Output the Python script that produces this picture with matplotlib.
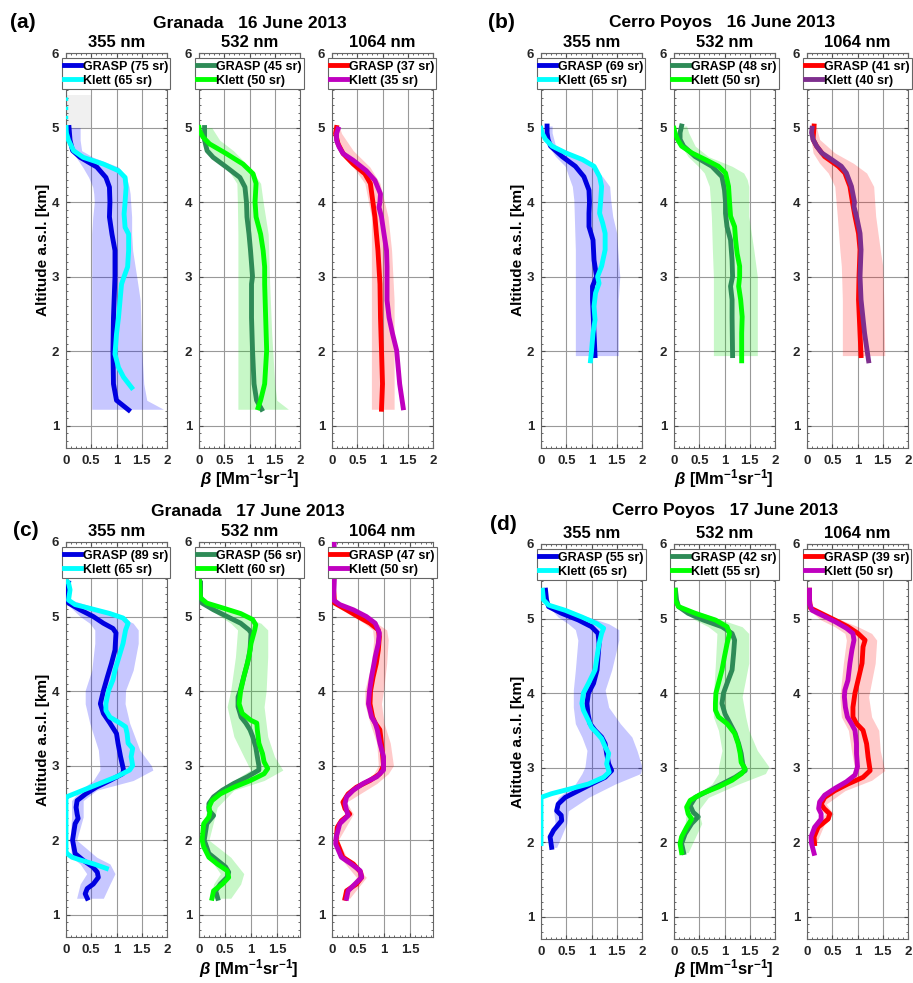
import numpy as np
import matplotlib.pyplot as plt
from matplotlib.ticker import MultipleLocator, FuncFormatter

plt.rcParams['font.family'] = 'Liberation Sans'
plt.rcParams['font.weight'] = 'bold'
plt.rcParams['mathtext.fontset'] = 'custom'
plt.rcParams['mathtext.rm'] = 'Liberation Sans:bold'
plt.rcParams['mathtext.it'] = 'Liberation Sans:italic:bold'
plt.rcParams['mathtext.bf'] = 'Liberation Sans:bold'

## Data: altitude [km] and backscatter [Mm-1 sr-1]

# (a) Granada 16 June 2013
a355_g_alt = [1.21, 1.34, 1.56, 2.01, 2.45, 3.0, 3.35, 3.57, 3.80, 4.0, 4.20, 4.33, 4.47, 4.60, 4.69, 4.83, 5.0]
a355_g_val = [1.24, 1.0, 0.94, 0.93, 0.94, 0.97, 0.97, 0.91, 0.86, 0.87, 0.86, 0.79, 0.61, 0.28, 0.13, 0.08, 0.06]
a355_k_alt = [1.51, 1.65, 1.78, 1.96, 2.23, 2.45, 2.68, 2.90, 3.0, 3.13, 3.35, 3.57, 3.66, 3.84, 4.0, 4.2, 4.33, 4.42, 4.51, 4.60, 4.69, 4.83, 4.92, 5.0]
a355_k_val = [1.30, 1.14, 1.04, 0.97, 1.0, 1.04, 1.07, 1.10, 1.15, 1.22, 1.24, 1.24, 1.17, 1.15, 1.17, 1.19, 1.17, 1.04, 0.74, 0.34, 0.15, 0.05, 0.01, 0.0]
a355_kd_alt = [5.0, 5.43]
a355_kd_val = [0.0, 0.0]
a355_box_alt = [5.0, 5.43]
a355_box_lo = [0.0, 0.0]
a355_box_hi = [0.5, 0.5]
a355_b_alt = [1.22, 1.34, 1.56, 2.01, 2.68, 3.0, 3.35, 3.57, 3.80, 4.0, 4.11, 4.20, 4.33, 4.47, 4.60, 4.69, 4.83, 5.0]
a355_b_lo = [0.51, 0.51, 0.51, 0.51, 0.51, 0.51, 0.51, 0.51, 0.53, 0.56, 0.55, 0.53, 0.45, 0.33, 0.20, 0.12, 0.05, 0.03]
a355_b_hi = [1.93, 1.60, 1.54, 1.50, 1.47, 1.40, 1.32, 1.30, 1.30, 1.28, 1.27, 1.25, 1.20, 1.04, 0.54, 0.31, 0.28, 0.28]

a532_g_alt = [1.22, 1.34, 1.56, 2.01, 2.45, 2.90, 3.0, 3.35, 3.57, 3.80, 4.0, 4.20, 4.33, 4.47, 4.60, 4.69, 4.83, 5.0]
a532_g_val = [1.24, 1.14, 1.09, 1.06, 1.04, 1.04, 1.06, 1.02, 0.99, 0.95, 0.94, 0.91, 0.81, 0.54, 0.28, 0.16, 0.11, 0.11]
a532_k_alt = [1.24, 1.34, 1.56, 2.01, 2.45, 2.90, 3.13, 3.35, 3.57, 3.80, 4.0, 4.25, 4.38, 4.51, 4.65, 4.78, 4.87, 4.96, 5.0]
a532_k_val = [1.17, 1.22, 1.30, 1.34, 1.32, 1.30, 1.30, 1.27, 1.22, 1.13, 1.11, 1.13, 1.07, 0.87, 0.54, 0.21, 0.08, 0.01, 0.0]
a532_b_alt = [1.22, 1.34, 1.56, 2.23, 2.90, 3.57, 4.0, 4.25, 4.47, 4.69, 4.83, 5.0]
a532_b_lo = [0.77, 0.77, 0.77, 0.77, 0.77, 0.77, 0.76, 0.75, 0.54, 0.21, 0.08, 0.05]
a532_b_hi = [1.77, 1.54, 1.50, 1.44, 1.40, 1.37, 1.27, 1.22, 1.0, 0.68, 0.41, 0.25]

a1064_g_alt = [1.22, 1.56, 2.01, 2.45, 2.90, 3.35, 3.57, 3.80, 4.0, 4.25, 4.38, 4.51, 4.65, 4.78, 4.92, 5.0]
a1064_g_val = [0.98, 1.0, 0.98, 0.96, 0.95, 0.91, 0.88, 0.85, 0.81, 0.76, 0.65, 0.42, 0.22, 0.12, 0.07, 0.09]
a1064_k_alt = [1.24, 1.56, 2.01, 2.23, 2.45, 2.68, 2.90, 3.13, 3.35, 3.57, 3.80, 3.93, 4.0, 4.11, 4.29, 4.42, 4.56, 4.65, 4.74, 4.83, 4.92, 4.98]
a1064_k_val = [1.41, 1.34, 1.28, 1.20, 1.13, 1.09, 1.09, 1.09, 1.08, 1.03, 0.98, 0.93, 0.95, 0.96, 0.85, 0.68, 0.42, 0.22, 0.14, 0.09, 0.09, 0.12]
a1064_b_alt = [1.22, 2.68, 3.35, 3.80, 4.25, 4.47, 4.69, 4.92, 5.0]
a1064_b_lo = [0.78, 0.78, 0.78, 0.78, 0.65, 0.42, 0.15, 0.05, 0.05]
a1064_b_hi = [1.23, 1.23, 1.18, 1.11, 0.95, 0.75, 0.42, 0.19, 0.15]

# (b) Cerro Poyos 16 June 2013
b355_g_alt = [1.94, 2.24, 2.69, 2.87, 3.0, 3.22, 3.49, 3.67, 3.85, 4.0, 4.16, 4.34, 4.48, 4.61, 4.75, 4.84, 4.93, 5.02]
b355_g_val = [1.07, 1.05, 1.02, 1.02, 1.10, 1.05, 1.03, 0.95, 0.95, 0.96, 0.95, 0.85, 0.68, 0.42, 0.19, 0.14, 0.12, 0.12]
b355_k_alt = [1.87, 2.0, 2.24, 2.42, 2.60, 2.78, 2.91, 3.0, 3.14, 3.36, 3.58, 3.72, 3.85, 4.0, 4.21, 4.34, 4.48, 4.57, 4.66, 4.75, 4.84, 4.93, 4.99]
b355_k_val = [0.98, 1.0, 1.03, 1.07, 1.05, 1.08, 1.15, 1.12, 1.20, 1.27, 1.27, 1.22, 1.16, 1.18, 1.20, 1.16, 1.05, 0.82, 0.49, 0.22, 0.09, 0.02, 0.0]
b355_b_alt = [1.94, 2.69, 3.0, 3.36, 3.58, 3.81, 4.03, 4.21, 4.34, 4.48, 4.61, 4.75, 4.93, 5.02]
b355_b_lo = [0.68, 0.68, 0.68, 0.68, 0.67, 0.66, 0.65, 0.62, 0.55, 0.48, 0.29, 0.15, 0.09, 0.09]
b355_b_hi = [1.53, 1.53, 1.56, 1.52, 1.50, 1.42, 1.38, 1.36, 1.22, 1.02, 0.62, 0.29, 0.22, 0.22]

b532_g_alt = [1.94, 2.46, 2.69, 2.87, 3.0, 3.22, 3.49, 3.67, 3.85, 4.0, 4.16, 4.34, 4.48, 4.61, 4.75, 4.84, 4.93, 5.02]
b532_g_val = [1.16, 1.15, 1.15, 1.12, 1.16, 1.15, 1.12, 1.05, 1.02, 1.02, 1.0, 0.95, 0.75, 0.42, 0.19, 0.12, 0.12, 0.15]
b532_k_alt = [1.87, 2.24, 2.46, 2.69, 2.87, 3.0, 3.14, 3.31, 3.49, 3.67, 3.81, 4.0, 4.21, 4.39, 4.48, 4.57, 4.66, 4.75, 4.84, 4.93, 4.99]
b532_k_val = [1.34, 1.34, 1.35, 1.32, 1.28, 1.30, 1.30, 1.25, 1.22, 1.20, 1.12, 1.10, 1.08, 1.02, 0.88, 0.62, 0.35, 0.15, 0.07, 0.02, 0.0]
b532_b_alt = [1.94, 3.0, 3.36, 3.81, 4.03, 4.21, 4.30, 4.39, 4.48, 4.61, 4.75, 4.93, 5.02]
b532_b_lo = [0.78, 0.78, 0.76, 0.74, 0.72, 0.70, 0.65, 0.60, 0.48, 0.28, 0.15, 0.10, 0.10]
b532_b_hi = [1.65, 1.65, 1.58, 1.48, 1.48, 1.48, 1.45, 1.38, 1.15, 0.68, 0.42, 0.29, 0.25]

b1064_g_alt = [1.94, 2.24, 2.69, 3.0, 3.36, 3.58, 3.81, 4.0, 4.21, 4.39, 4.48, 4.61, 4.75, 4.84, 5.02]
b1064_g_val = [1.07, 1.05, 1.02, 1.03, 1.05, 1.02, 0.95, 0.90, 0.85, 0.75, 0.62, 0.35, 0.19, 0.12, 0.14]
b1064_k_alt = [1.87, 2.24, 2.69, 3.0, 3.36, 3.58, 3.81, 3.94, 4.0, 4.21, 4.39, 4.48, 4.57, 4.66, 4.75, 4.84, 4.93, 4.99]
b1064_k_val = [1.22, 1.14, 1.07, 1.05, 1.07, 1.05, 0.98, 0.93, 0.94, 0.88, 0.78, 0.68, 0.49, 0.29, 0.19, 0.12, 0.09, 0.10]
b1064_b_alt = [1.94, 2.69, 3.14, 3.36, 3.81, 4.21, 4.39, 4.52, 4.66, 4.84, 5.02]
b1064_b_lo = [0.70, 0.70, 0.68, 0.65, 0.60, 0.55, 0.42, 0.25, 0.12, 0.08, 0.05]
b1064_b_hi = [1.54, 1.52, 1.50, 1.45, 1.36, 1.32, 1.18, 0.92, 0.55, 0.25, 0.18]

# (c) Granada 17 June 2013
c355_g_alt = [1.22, 1.28, 1.35, 1.41, 1.50, 1.57, 1.64, 1.73, 1.82, 2.0, 2.22, 2.29, 2.35, 2.44, 2.53, 2.62, 2.71, 2.80, 2.89, 2.94, 3.12, 3.30, 3.43, 3.57, 3.70, 3.83, 4.0, 4.19, 4.37, 4.55, 4.78, 4.84, 4.91, 5.0, 5.09, 5.18, 5.27, 5.45]
c355_g_val = [0.42, 0.38, 0.42, 0.54, 0.64, 0.62, 0.53, 0.34, 0.18, 0.13, 0.18, 0.24, 0.22, 0.20, 0.22, 0.39, 0.60, 0.87, 1.12, 1.14, 1.08, 1.03, 1.0, 0.87, 0.74, 0.68, 0.74, 0.82, 0.90, 0.97, 0.99, 0.93, 0.74, 0.54, 0.28, 0.05, 0.01, 0.05]
c355_k_alt = [1.62, 1.68, 1.73, 1.77, 1.82, 1.84, 2.56, 2.58, 2.67, 2.76, 2.85, 2.94, 3.0, 3.12, 3.23, 3.30, 3.43, 3.52, 3.57, 3.65, 3.74, 3.83, 4.0, 4.15, 4.28, 4.46, 4.64, 4.82, 4.91, 4.98, 5.04, 5.11, 5.16, 5.22, 5.36, 5.45, 5.49]
c355_k_val = [0.80, 0.55, 0.30, 0.12, 0.02, 0.0, 0.0, 0.01, 0.34, 0.67, 1.0, 1.26, 1.32, 1.29, 1.32, 1.23, 1.21, 1.18, 1.07, 0.87, 0.79, 0.79, 0.84, 0.93, 0.97, 1.05, 1.13, 1.18, 1.23, 1.13, 0.87, 0.47, 0.18, 0.05, 0.08, 0.05, 0.0]
c355_b_alt = [1.22, 1.41, 1.55, 1.68, 1.77, 2.0, 2.31, 2.53, 2.67, 2.80, 2.94, 3.0, 3.21, 3.57, 3.83, 4.01, 4.28, 4.64, 4.82, 4.91, 5.0, 5.13, 5.22]
c355_b_lo = [0.21, 0.28, 0.41, 0.28, 0.11, 0.08, 0.11, 0.11, 0.28, 0.54, 0.67, 0.67, 0.64, 0.47, 0.38, 0.38, 0.51, 0.57, 0.57, 0.47, 0.28, 0.08, 0.01]
c355_b_hi = [0.74, 0.87, 0.97, 0.87, 0.61, 0.21, 0.34, 0.34, 0.61, 1.33, 1.72, 1.69, 1.46, 1.26, 1.17, 1.18, 1.33, 1.43, 1.43, 1.33, 1.07, 0.54, 0.11]

c532_g_alt = [1.22, 1.32, 1.41, 1.50, 1.57, 1.64, 1.73, 1.82, 2.0, 2.22, 2.33, 2.40, 2.49, 2.58, 2.67, 2.76, 2.85, 2.94, 3.0, 3.12, 3.25, 3.39, 3.48, 3.57, 3.65, 3.79, 3.92, 4.0, 4.19, 4.37, 4.55, 4.78, 4.82, 4.91, 5.0, 5.09, 5.18, 5.27, 5.45]
c532_g_val = [0.36, 0.32, 0.41, 0.54, 0.57, 0.51, 0.35, 0.19, 0.10, 0.15, 0.28, 0.19, 0.19, 0.28, 0.45, 0.67, 0.93, 1.15, 1.15, 1.12, 1.09, 1.03, 0.98, 0.90, 0.81, 0.75, 0.75, 0.79, 0.86, 0.93, 0.98, 1.0, 0.96, 0.80, 0.54, 0.28, 0.06, 0.03, 0.03]
c532_k_alt = [1.22, 1.32, 1.41, 1.50, 1.59, 1.68, 1.77, 1.91, 2.0, 2.22, 2.31, 2.38, 2.44, 2.53, 2.62, 2.71, 2.80, 2.89, 2.96, 3.05, 3.16, 3.30, 3.48, 3.57, 3.61, 3.70, 3.83, 4.0, 4.19, 4.46, 4.64, 4.82, 4.89, 4.96, 5.04, 5.11, 5.18, 5.25, 5.45, 5.6]
c532_k_val = [0.25, 0.28, 0.45, 0.57, 0.54, 0.35, 0.19, 0.09, 0.06, 0.09, 0.19, 0.21, 0.19, 0.25, 0.41, 0.67, 0.99, 1.25, 1.32, 1.25, 1.22, 1.15, 1.12, 1.11, 0.99, 0.83, 0.77, 0.80, 0.86, 0.96, 1.0, 1.07, 1.09, 1.03, 0.80, 0.48, 0.15, 0.03, 0.01, 0.01]
c532_b_alt = [1.22, 1.41, 1.55, 1.77, 2.0, 2.44, 2.67, 2.80, 2.94, 3.12, 3.39, 3.79, 4.01, 4.46, 4.82, 4.91, 5.0, 5.13]
c532_b_lo = [0.22, 0.28, 0.41, 0.19, 0.09, 0.15, 0.35, 0.67, 0.99, 0.86, 0.67, 0.54, 0.61, 0.70, 0.74, 0.61, 0.41, 0.15]
c532_b_hi = [0.61, 0.80, 0.86, 0.61, 0.19, 0.35, 0.67, 1.25, 1.61, 1.45, 1.32, 1.25, 1.29, 1.32, 1.32, 1.19, 0.86, 0.41]

c1064_g_alt = [1.22, 1.32, 1.41, 1.50, 1.57, 1.68, 1.77, 2.0, 2.17, 2.26, 2.35, 2.42, 2.51, 2.62, 2.71, 2.80, 2.89, 3.0, 3.16, 3.30, 3.48, 3.57, 3.65, 3.83, 4.0, 4.19, 4.37, 4.55, 4.73, 4.82, 4.91, 5.0, 5.09, 5.18, 5.36, 5.94]
c1064_g_val = [0.25, 0.28, 0.47, 0.57, 0.55, 0.41, 0.21, 0.08, 0.10, 0.18, 0.34, 0.25, 0.21, 0.31, 0.47, 0.73, 0.92, 0.99, 0.97, 0.95, 0.92, 0.83, 0.78, 0.73, 0.74, 0.79, 0.85, 0.89, 0.91, 0.89, 0.73, 0.50, 0.28, 0.05, 0.03, 0.02]
c1064_k_alt = [1.22, 1.32, 1.41, 1.50, 1.59, 1.68, 1.77, 1.95, 2.04, 2.22, 2.33, 2.40, 2.49, 2.58, 2.67, 2.76, 2.85, 2.94, 3.12, 3.30, 3.48, 3.57, 3.65, 3.83, 4.0, 4.19, 4.46, 4.64, 4.78, 4.91, 5.0, 5.09, 5.16, 5.22, 5.58, 5.99]
c1064_k_val = [0.28, 0.31, 0.44, 0.57, 0.54, 0.37, 0.18, 0.07, 0.08, 0.15, 0.31, 0.28, 0.25, 0.28, 0.41, 0.60, 0.86, 0.99, 0.99, 0.92, 0.87, 0.83, 0.76, 0.70, 0.72, 0.76, 0.83, 0.89, 0.91, 0.83, 0.66, 0.41, 0.15, 0.03, 0.05, 0.04]
c1064_b_alt = [1.22, 1.50, 1.77, 2.0, 2.35, 2.51, 2.76, 2.89, 3.0, 3.30, 3.57, 3.83, 4.01, 4.37, 4.69, 4.82, 4.91, 5.0, 5.13]
c1064_b_lo = [0.18, 0.47, 0.15, 0.05, 0.28, 0.15, 0.54, 0.80, 0.89, 0.86, 0.73, 0.63, 0.63, 0.76, 0.80, 0.78, 0.62, 0.40, 0.10]
c1064_b_hi = [0.34, 0.66, 0.28, 0.12, 0.41, 0.28, 0.86, 1.08, 1.18, 1.12, 1.0, 0.95, 0.99, 1.05, 1.08, 1.05, 0.86, 0.62, 0.25]

# (d) Cerro Poyos 17 June 2013
d355_g_alt = [1.93, 2.07, 2.16, 2.29, 2.36, 2.42, 2.51, 2.60, 2.69, 2.78, 2.87, 2.96, 3.05, 3.19, 3.32, 3.41, 3.50, 3.59, 3.72, 3.86, 4.0, 4.13, 4.31, 4.49, 4.66, 4.80, 4.89, 4.98, 5.07, 5.16, 5.25, 5.38]
d355_g_val = [0.21, 0.18, 0.25, 0.41, 0.40, 0.31, 0.34, 0.48, 0.74, 1.0, 1.27, 1.40, 1.34, 1.30, 1.27, 1.20, 1.07, 0.97, 0.93, 0.91, 0.94, 1.04, 1.11, 1.13, 1.15, 1.13, 1.0, 0.74, 0.41, 0.15, 0.11, 0.09]
d355_k_alt = [1.98, 2.60, 2.65, 2.72, 2.78, 2.87, 2.94, 3.05, 3.19, 3.28, 3.39, 3.46, 3.54, 3.63, 3.77, 3.86, 4.0, 4.13, 4.31, 4.49, 4.66, 4.80, 4.87, 4.93, 5.02, 5.11, 5.18, 5.25, 5.38]
d355_k_val = [0.0, 0.0, 0.21, 0.61, 0.94, 1.24, 1.35, 1.30, 1.34, 1.27, 1.20, 1.11, 1.0, 0.94, 0.84, 0.81, 0.84, 0.94, 1.07, 1.11, 1.15, 1.20, 1.24, 1.11, 0.81, 0.48, 0.15, 0.05, 0.03]
d355_b_alt = [1.93, 2.25, 2.42, 2.60, 2.78, 2.92, 3.01, 3.23, 3.41, 3.59, 3.81, 4.04, 4.31, 4.71, 4.85, 4.93, 5.02, 5.16]
d355_b_lo = [0.16, 0.28, 0.25, 0.34, 0.68, 0.81, 0.87, 0.91, 0.81, 0.68, 0.64, 0.64, 0.68, 0.73, 0.68, 0.54, 0.34, 0.15]
d355_b_hi = [0.31, 0.51, 0.54, 0.94, 1.47, 1.97, 2.0, 1.90, 1.80, 1.57, 1.34, 1.27, 1.40, 1.54, 1.54, 1.34, 0.94, 0.28]

d532_g_alt = [1.86, 1.98, 2.11, 2.25, 2.34, 2.40, 2.49, 2.60, 2.69, 2.78, 2.87, 2.96, 3.05, 3.19, 3.32, 3.46, 3.59, 3.72, 3.86, 4.0, 4.13, 4.31, 4.53, 4.71, 4.80, 4.89, 4.98, 5.07, 5.16, 5.25, 5.38]
d532_g_val = [0.19, 0.15, 0.22, 0.35, 0.48, 0.38, 0.32, 0.42, 0.68, 0.95, 1.21, 1.41, 1.36, 1.33, 1.28, 1.21, 1.11, 1.01, 0.95, 0.98, 1.05, 1.15, 1.18, 1.20, 1.15, 0.95, 0.58, 0.28, 0.09, 0.05, 0.03]
d532_k_alt = [1.86, 1.98, 2.07, 2.20, 2.31, 2.38, 2.47, 2.56, 2.65, 2.74, 2.83, 2.92, 2.98, 3.07, 3.19, 3.32, 3.46, 3.59, 3.68, 3.77, 3.86, 4.0, 4.13, 4.31, 4.49, 4.66, 4.80, 4.89, 4.98, 5.07, 5.16, 5.25, 5.38]
d532_k_val = [0.15, 0.12, 0.15, 0.25, 0.35, 0.28, 0.25, 0.32, 0.55, 0.88, 1.15, 1.34, 1.41, 1.33, 1.31, 1.27, 1.20, 1.05, 0.88, 0.82, 0.82, 0.83, 0.88, 0.95, 1.0, 1.05, 1.10, 1.05, 0.82, 0.42, 0.09, 0.02, 0.02]
d532_b_alt = [1.86, 2.25, 2.42, 2.60, 2.78, 2.92, 3.01, 3.23, 3.50, 3.68, 3.95, 4.40, 4.80, 4.89, 4.98, 5.11]
d532_b_lo = [0.12, 0.22, 0.25, 0.35, 0.75, 0.88, 0.88, 0.95, 0.88, 0.78, 0.78, 0.82, 0.85, 0.68, 0.42, 0.15]
d532_b_hi = [0.28, 0.55, 0.48, 0.68, 1.28, 1.81, 1.88, 1.65, 1.48, 1.42, 1.35, 1.48, 1.48, 1.35, 0.95, 0.42]

d1064_g_alt = [1.98, 2.07, 2.20, 2.31, 2.38, 2.45, 2.51, 2.60, 2.69, 2.78, 2.87, 2.96, 3.14, 3.32, 3.50, 3.59, 3.68, 3.81, 4.0, 4.17, 4.40, 4.62, 4.71, 4.80, 4.89, 4.98, 5.07, 5.14, 5.25, 5.38]
d1064_g_val = [0.15, 0.14, 0.22, 0.42, 0.45, 0.34, 0.28, 0.35, 0.55, 0.81, 1.11, 1.25, 1.21, 1.18, 1.11, 0.98, 0.91, 0.91, 0.95, 1.01, 1.09, 1.11, 1.15, 1.01, 0.81, 0.55, 0.28, 0.07, 0.05, 0.05]
d1064_k_alt = [1.85, 1.98, 2.07, 2.20, 2.31, 2.38, 2.45, 2.54, 2.63, 2.72, 2.81, 2.90, 3.01, 3.19, 3.32, 3.50, 3.59, 3.68, 3.81, 3.95, 4.04, 4.17, 4.40, 4.58, 4.71, 4.80, 4.87, 4.96, 5.05, 5.11, 5.20, 5.38]
d1064_k_val = [0.14, 0.09, 0.08, 0.15, 0.28, 0.28, 0.23, 0.25, 0.35, 0.55, 0.78, 0.95, 1.0, 0.98, 0.98, 0.95, 0.88, 0.80, 0.76, 0.74, 0.75, 0.81, 0.85, 0.89, 0.93, 0.91, 0.78, 0.55, 0.28, 0.10, 0.05, 0.05]
d1064_b_alt = [1.98, 2.25, 2.38, 2.51, 2.69, 2.83, 2.96, 3.23, 3.50, 3.68, 3.95, 4.40, 4.71, 4.80, 4.89, 4.98, 5.07]
d1064_b_lo = [0.10, 0.22, 0.35, 0.22, 0.42, 0.75, 0.95, 0.88, 0.82, 0.68, 0.65, 0.72, 0.78, 0.75, 0.55, 0.28, 0.12]
d1064_b_hi = [0.18, 0.35, 0.52, 0.38, 0.75, 1.28, 1.54, 1.45, 1.42, 1.28, 1.22, 1.35, 1.38, 1.28, 1.01, 0.68, 0.35]

# labels
panel_letters = ['(a)', '(b)', '(c)', '(d)']
panel_titles = ['Granada   16 June 2013', 'Cerro Poyos   16 June 2013',
                'Granada   17 June 2013', 'Cerro Poyos   17 June 2013']
wavelengths = ['355 nm', '532 nm', '1064 nm']
grasp_lr = [[75, 45, 37], [69, 48, 41], [89, 56, 47], [55, 42, 39]]
klett_lr = [[65, 50, 35], [65, 50, 40], [65, 60, 50], [65, 55, 50]]

grasp_cols = ['#0000e0', '#2e8b57', '#ff0000']
klett_cols = [['#00ffff', '#00ff00', '#bf00bf'],
              ['#00ffff', '#00ff00', '#7e2f8e'],
              ['#00ffff', '#00ff00', '#bf00bf'],
              ['#00ffff', '#00ff00', '#bf00bf']]
band_cols = ['#0000ff', '#00dd00', '#ff1010']

curves = [
    [(a355_g_alt, a355_g_val, a355_k_alt, a355_k_val, a355_b_alt, a355_b_lo, a355_b_hi),
     (a532_g_alt, a532_g_val, a532_k_alt, a532_k_val, a532_b_alt, a532_b_lo, a532_b_hi),
     (a1064_g_alt, a1064_g_val, a1064_k_alt, a1064_k_val, a1064_b_alt, a1064_b_lo, a1064_b_hi)],
    [(b355_g_alt, b355_g_val, b355_k_alt, b355_k_val, b355_b_alt, b355_b_lo, b355_b_hi),
     (b532_g_alt, b532_g_val, b532_k_alt, b532_k_val, b532_b_alt, b532_b_lo, b532_b_hi),
     (b1064_g_alt, b1064_g_val, b1064_k_alt, b1064_k_val, b1064_b_alt, b1064_b_lo, b1064_b_hi)],
    [(c355_g_alt, c355_g_val, c355_k_alt, c355_k_val, c355_b_alt, c355_b_lo, c355_b_hi),
     (c532_g_alt, c532_g_val, c532_k_alt, c532_k_val, c532_b_alt, c532_b_lo, c532_b_hi),
     (c1064_g_alt, c1064_g_val, c1064_k_alt, c1064_k_val, c1064_b_alt, c1064_b_lo, c1064_b_hi)],
    [(d355_g_alt, d355_g_val, d355_k_alt, d355_k_val, d355_b_alt, d355_b_lo, d355_b_hi),
     (d532_g_alt, d532_g_val, d532_k_alt, d532_k_val, d532_b_alt, d532_b_lo, d532_b_hi),
     (d1064_g_alt, d1064_g_val, d1064_k_alt, d1064_k_val, d1064_b_alt, d1064_b_lo, d1064_b_hi)],
]

## Layout (pixels)
W, H = 913, 983
lefts = [[66, 199, 332], [541, 674, 807], [66, 199, 332], [541, 674, 807]]
tops = [53, 53, 542, 544]
bots = [448, 448, 937, 939]
xmaxs = [[2, 2, 2], [2, 2, 2], [2, 1.94, 1.94], [2, 2, 2]]
letter_xy = [(10, 22), (488, 22), (13, 530), (490, 525)]
title_xy = [(250, 24), (722, 22), (248, 511), (725, 511)]
ylab_xy = [(43, 250), (518, 250), (43, 740), (518, 742)]
xlab_xy = [(250, 479), (724, 479), (249, 969), (724, 969)]

fig = plt.figure(figsize=(W / 100, H / 100), dpi=100)
fmt = FuncFormatter(lambda v, p: '%g' % v)

for p in range(4):
    for j in range(3):
        l = lefts[p][j]
        ax = fig.add_axes([l / W, 1 - bots[p] / H, 101 / W, (bots[p] - tops[p]) / H])
        g_alt, g_val, k_alt, k_val, b_alt, b_lo, b_hi = curves[p][j]
        ax.fill_betweenx(b_alt, b_lo, b_hi, color=band_cols[j], alpha=0.22, lw=0, zorder=1)
        ax.plot(g_val, g_alt, color=grasp_cols[j], lw=3.5, zorder=3,
                label='GRASP (%d sr)' % grasp_lr[p][j])
        ax.plot(k_val, k_alt, color=klett_cols[p][j], lw=3.5, zorder=4,
                label='Klett (%d sr)' % klett_lr[p][j])
        if p == 0 and j == 0:
            ax.fill_betweenx(a355_box_alt, a355_box_lo, a355_box_hi, color='#f0f0f0', lw=0, zorder=0.5)
            ax.plot(a355_kd_val, a355_kd_alt, color='#00ffff', lw=2.5, ls=':', zorder=4)

        xmax = xmaxs[p][j]
        ax.set_xlim(0, xmax)
        ax.set_ylim(0.7, 6)
        ax.set_xticks([t for t in [0, 0.5, 1, 1.5, 2] if t <= xmax])
        ax.set_yticks([1, 2, 3, 4, 5, 6])
        ax.xaxis.set_major_formatter(fmt)
        ax.xaxis.set_minor_locator(MultipleLocator(0.1))
        ax.yaxis.set_minor_locator(MultipleLocator(0.1))
        ax.tick_params(which='both', direction='in', top=True, right=True,
                       labelsize=9.5, labelcolor='#262626', color='0.3')
        ax.tick_params(which='major', length=3, pad=5)
        ax.tick_params(which='minor', length=1.5)
        ax.grid(True, which='major', color='0.6', lw=0.8)
        ax.set_axisbelow(True)
        for s in ax.spines.values():
            s.set_color('0.4')
            s.set_linewidth(0.8)
        for lab in ax.get_xticklabels() + ax.get_yticklabels():
            lab.set_fontweight('bold')

        ax.set_title(wavelengths[j], fontsize=12, fontweight='bold', pad=4)
        leg = ax.legend(loc='upper left', bbox_to_anchor=(-0.04, 0.987),
                        prop={'size': 9, 'weight': 'bold'},
                        handlelength=1.3, handletextpad=0.15, borderpad=0.2,
                        labelspacing=0.15, borderaxespad=0, fancybox=False,
                        edgecolor='0.4', framealpha=1)
        leg.get_frame().set_linewidth(0.8)
        leg.set_zorder(10)

    fig.text(letter_xy[p][0] / W, 1 - letter_xy[p][1] / H, panel_letters[p],
             fontsize=15, fontweight='bold', ha='left', va='center')
    fig.text(title_xy[p][0] / W, 1 - title_xy[p][1] / H, panel_titles[p],
             fontsize=12.5, fontweight='bold', ha='center', va='center')
    fig.text(ylab_xy[p][0] / W, 1 - ylab_xy[p][1] / H, 'Altitude a.s.l. [km]',
             fontsize=11, fontweight='bold', rotation=90, ha='center', va='center')
    fig.text(xlab_xy[p][0] / W, 1 - xlab_xy[p][1] / H,
             r'$\it{\beta}$ [Mm$^{\mathbf{-1}}$sr$^{\mathbf{-1}}$]',
             fontsize=12, fontweight='bold', ha='center', va='center')

fig.savefig('out.png', dpi=100)
